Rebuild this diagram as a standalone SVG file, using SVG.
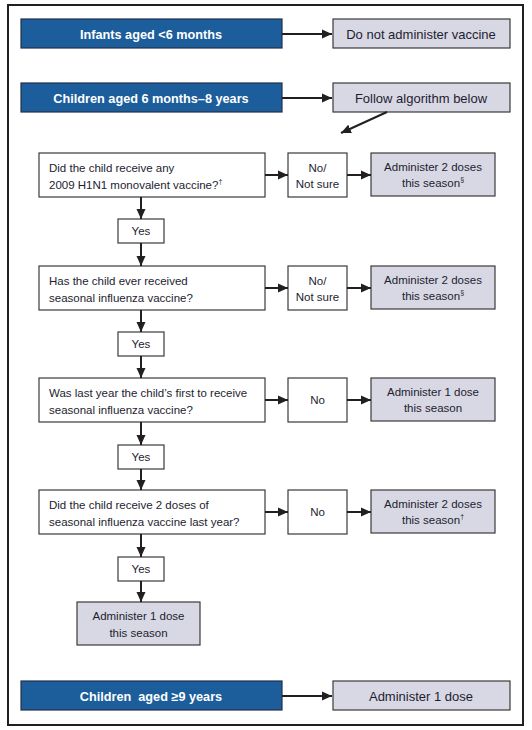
<svg xmlns="http://www.w3.org/2000/svg" width="532" height="730" viewBox="0 0 532 730">
<defs>
<marker id="ah" markerUnits="userSpaceOnUse" markerWidth="11" markerHeight="10" refX="10" refY="5" orient="auto">
<path d="M0,0.5 L10,5 L0,9.5 z" fill="#231f20"/>
</marker>
<style>
.blue{fill:#1c5d9c;stroke:#23304a;stroke-width:1.2}
.gray{fill:#d8d8e4;stroke:#3a3a3a;stroke-width:1.2}
.white{fill:#ffffff;stroke:#3a3a3a;stroke-width:1.2}
.bt{font-family:"Liberation Sans",Arial,sans-serif;font-weight:bold;font-size:12.7px;fill:#ffffff;text-anchor:middle}
.gt{font-family:"Liberation Sans",Arial,sans-serif;font-size:13px;fill:#1d1d30;text-anchor:middle}
.t{font-family:"Liberation Sans",Arial,sans-serif;font-size:11.5px;fill:#1d1d30}
.c{text-anchor:middle}
.sup{font-size:7px}
.conn line{stroke:#231f20;stroke-width:2;fill:none;marker-end:url(#ah)}
</style>
</defs>
<rect x="0" y="0" width="532" height="730" fill="#ffffff"/>
<rect x="8" y="5" width="515" height="720" fill="#ffffff" stroke="#231f20" stroke-width="2"/>

<g id="infants">
<rect class="blue" x="21" y="19" width="261" height="29"/>
<text class="bt" x="151" y="38.5">Infants aged &lt;6 months</text>
</g>
<g id="do-not">
<rect class="gray" x="333" y="19" width="177" height="29"/>
<text class="gt" x="421" y="38.5">Do not administer vaccine</text>
</g>
<g id="children-6m-8y">
<rect class="blue" x="21" y="83" width="261" height="29"/>
<text class="bt" x="151" y="102.5">Children aged 6 months–8 years</text>
</g>
<g id="follow">
<rect class="gray" x="333" y="83" width="177" height="29"/>
<text class="gt" x="421" y="102.5">Follow algorithm below</text>
</g>

<g id="q1">
<rect class="white" x="39" y="153" width="226" height="44"/>
<text class="t" x="49" y="172">Did the child receive any</text>
<text class="t" x="49" y="189">2009 H1N1 monovalent vaccine?<tspan class="sup" dy="-5">†</tspan></text>
</g>
<g id="no1">
<rect class="white" x="288" y="153" width="59" height="44"/>
<text class="t c" x="317.5" y="171.5">No/</text>
<text class="t c" x="317.5" y="188">Not sure</text>
</g>
<g id="a1">
<rect class="gray" x="371" y="153" width="124" height="43"/>
<text class="t c" x="433" y="171">Administer 2 doses</text>
<text class="t c" x="433" y="187">this season<tspan class="sup" dy="-5">§</tspan></text>
</g>
<g id="yes1">
<rect class="white" x="118" y="219" width="46" height="24"/>
<text class="t c" x="141" y="235">Yes</text>
</g>

<g id="q2">
<rect class="white" x="39" y="266" width="226" height="44"/>
<text class="t" x="49" y="285">Has the child ever received</text>
<text class="t" x="49" y="302">seasonal influenza vaccine?</text>
</g>
<g id="no2">
<rect class="white" x="288" y="266" width="59" height="44"/>
<text class="t c" x="317.5" y="284.5">No/</text>
<text class="t c" x="317.5" y="301">Not sure</text>
</g>
<g id="a2">
<rect class="gray" x="371" y="266" width="124" height="43"/>
<text class="t c" x="433" y="284">Administer 2 doses</text>
<text class="t c" x="433" y="300">this season<tspan class="sup" dy="-5">§</tspan></text>
</g>
<g id="yes2">
<rect class="white" x="118" y="332" width="46" height="24"/>
<text class="t c" x="141" y="348">Yes</text>
</g>

<g id="q3">
<rect class="white" x="39" y="378" width="226" height="44"/>
<text class="t" x="49" y="397">Was last year the child’s first to receive</text>
<text class="t" x="49" y="414">seasonal influenza vaccine?</text>
</g>
<g id="no3">
<rect class="white" x="288" y="378" width="59" height="44"/>
<text class="t c" x="317.5" y="404">No</text>
</g>
<g id="a3">
<rect class="gray" x="371" y="378" width="124" height="43"/>
<text class="t c" x="433" y="396">Administer 1 dose</text>
<text class="t c" x="433" y="412">this season</text>
</g>
<g id="yes3">
<rect class="white" x="118" y="445" width="46" height="24"/>
<text class="t c" x="141" y="461">Yes</text>
</g>

<g id="q4">
<rect class="white" x="39" y="490" width="226" height="44"/>
<text class="t" x="49" y="509">Did the child receive 2 doses of</text>
<text class="t" x="49" y="526">seasonal influenza vaccine last year?</text>
</g>
<g id="no4">
<rect class="white" x="288" y="490" width="59" height="44"/>
<text class="t c" x="317.5" y="516">No</text>
</g>
<g id="a4">
<rect class="gray" x="371" y="490" width="124" height="43"/>
<text class="t c" x="433" y="508">Administer 2 doses</text>
<text class="t c" x="433" y="524">this season<tspan class="sup" dy="-5">†</tspan></text>
</g>
<g id="yes4">
<rect class="white" x="118" y="557" width="46" height="24"/>
<text class="t c" x="141" y="573">Yes</text>
</g>
<g id="a5">
<rect class="gray" x="77" y="602" width="123" height="43"/>
<text class="t c" x="138.5" y="620">Administer 1 dose</text>
<text class="t c" x="138.5" y="637">this season</text>
</g>

<g id="children-9y">
<rect class="blue" x="21" y="681" width="261" height="29"/>
<text class="bt" x="151" y="700.5" xml:space="preserve">Children  aged ≥9 years</text>
</g>
<g id="admin-1">
<rect class="gray" x="333" y="681" width="177" height="29"/>
<text class="gt" x="421" y="700.5">Administer 1 dose</text>
</g>

<g id="connectors" class="conn">
<line x1="282" y1="34" x2="332" y2="34"/>
<line x1="282" y1="98" x2="332" y2="98"/>
<line x1="387" y1="112" x2="341" y2="133"/>
<line x1="265" y1="175" x2="288" y2="175"/>
<line x1="347" y1="175" x2="371" y2="175"/>
<line x1="141" y1="197" x2="141" y2="219"/>
<line x1="141" y1="243" x2="141" y2="266"/>
<line x1="265" y1="288" x2="288" y2="288"/>
<line x1="347" y1="288" x2="371" y2="288"/>
<line x1="141" y1="310" x2="141" y2="332"/>
<line x1="141" y1="356" x2="141" y2="378"/>
<line x1="265" y1="400" x2="288" y2="400"/>
<line x1="347" y1="400" x2="371" y2="400"/>
<line x1="141" y1="422" x2="141" y2="445"/>
<line x1="141" y1="469" x2="141" y2="490"/>
<line x1="265" y1="512" x2="288" y2="512"/>
<line x1="347" y1="512" x2="371" y2="512"/>
<line x1="141" y1="534" x2="141" y2="557"/>
<line x1="141" y1="581" x2="141" y2="602"/>
<line x1="282" y1="696" x2="332" y2="696"/>
</g>
</svg>
